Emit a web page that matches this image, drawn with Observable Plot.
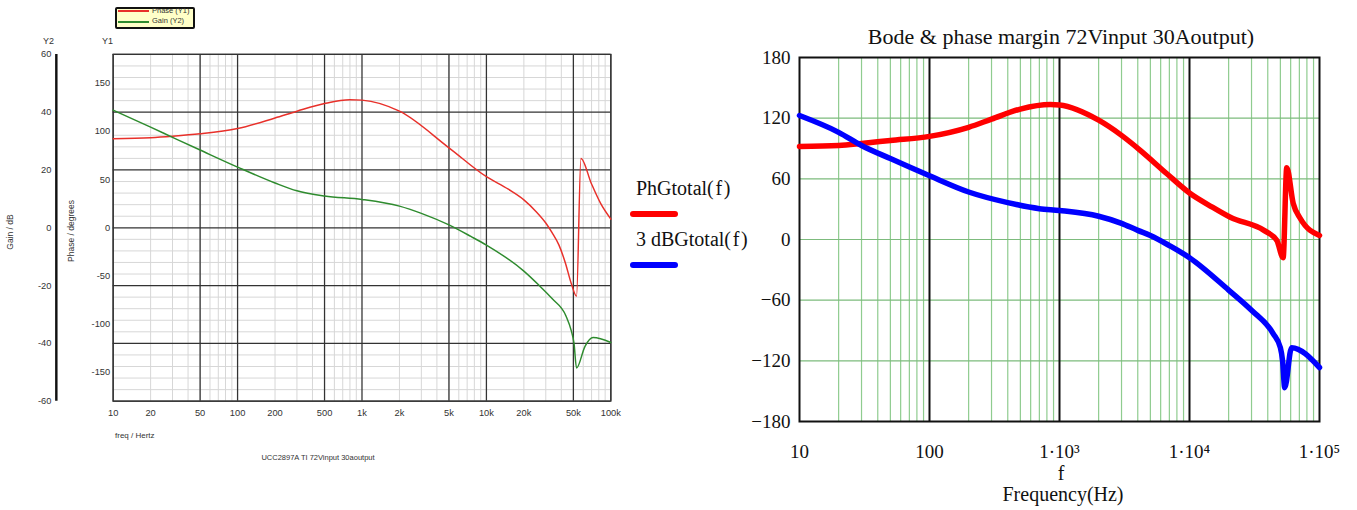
<!DOCTYPE html>
<html><head><meta charset="utf-8">
<script src="https://cdn.jsdelivr.net/npm/d3@7"></script>
<script src="https://cdn.jsdelivr.net/npm/@observablehq/plot@0.6"></script>
<style>
body{margin:0;background:#fff;}
#wrap{position:relative;width:1357px;height:510px;overflow:hidden;background:#fff;}
.abs{position:absolute;white-space:nowrap;}
.sans{font-family:"Liberation Sans",Arial,sans-serif;color:#333;}
.serif{font-family:"Liberation Serif","Times New Roman",serif;color:#111;}
.rot{transform:translate(-50%,-50%) rotate(-90deg);}
</style></head><body>
<div id="wrap">
  <div id="left" class="abs" style="left:0;top:0;width:627px;height:470px;overflow:hidden"></div>
  <div id="right" class="abs" style="left:740px;top:0;"></div>

  <!-- left chart texts -->
  <div class="abs" style="left:115px;top:7px;width:76px;height:18px;background:#ffffc8;border:2px solid #111;border-radius:2px;"></div>
  <div class="abs" style="left:118px;top:10px;width:31px;height:0;border-top:2px solid #e8302a;"></div>
  <div class="abs sans" style="left:152px;top:6px;font-size:7.5px;line-height:9px;">Phase (Y1)</div>
  <div class="abs" style="left:118px;top:21px;width:31px;height:0;border-top:2px solid #2e8b2e;"></div>
  <div class="abs sans" style="left:152px;top:16px;font-size:7.5px;line-height:9px;">Gain (Y2)</div>
  <div class="abs sans" style="left:43px;top:36px;font-size:9px;">Y2</div>
  <div class="abs sans" style="left:102px;top:36px;font-size:9px;">Y1</div>
  <div class="abs sans rot" style="left:10px;top:232px;font-size:8.5px;">Gain / dB</div>
  <div class="abs sans rot" style="left:71px;top:231px;font-size:8.5px;">Phase / degrees</div>
  <div class="abs sans" style="left:115px;top:431px;font-size:8px;">freq / Hertz</div>
  <div class="abs sans" style="left:318px;top:453px;font-size:7.5px;transform:translateX(-50%);">UCC2897A TI 72Vinput 30aoutput</div>

  <!-- middle legend -->
  <div class="abs serif" style="left:636px;top:177px;font-size:20px;">PhGtotal(&#8202;f&#8202;)</div>
  <div class="abs" style="left:630px;top:211px;width:48px;height:6px;background:#ff0000;border-radius:3px;"></div>
  <div class="abs serif" style="left:636px;top:228px;font-size:20px;">3 dBGtotal(&#8202;f&#8202;)</div>
  <div class="abs" style="left:630px;top:262px;width:48px;height:6px;background:#0000ff;border-radius:3px;"></div>

  <!-- right chart texts -->
  <div class="abs serif" style="left:1061px;top:24px;font-size:22px;transform:translateX(-50%);">Bode &amp; phase margin 72Vinput 30Aoutput)</div>
  <div class="abs serif" style="left:1061px;top:464px;font-size:20px;line-height:18px;transform:translateX(-50%);">f</div>
  <div class="abs serif" style="left:1063px;top:484px;font-size:20px;line-height:20px;transform:translateX(-50%);">Frequency(Hz)</div>
</div>
<script>
// ---------- shared tick definitions ----------
const decades = [10, 100, 1000, 10000];
const multipliers = [2, 3, 4, 5, 6, 7, 8, 9];
const minorX = decades.flatMap(d => multipliers.map(m => d * m));

// ---------- left chart (simulator) ----------
const leftXTicks  = [10, 20, 50, 100, 200, 500, 1000, 2000, 5000, 10000, 20000, 50000, 100000];
const leftXLabels = ["10","20","50","100","200","500","1k","2k","5k","10k","20k","50k","100k"];
const leftMajorX  = [10, 50, 100, 500, 1000, 5000, 10000, 50000, 100000];
const leftY1Ticks = [-150, -100, -50, 0, 50, 100, 150];      // phase, degrees
const leftY2Ticks = [-60, -40, -20, 0, 20, 40, 60];          // gain, dB
const leftMinorY2 = [-56,-52,-48,-44,-36,-32,-28,-24,-16,-12,-8,-4,4,8,12,16,24,28,32,36,44,48,52,56];
const degPerDb = 3; // Y2 (dB) to Y1 (deg) relation of the two axes

const leftPhaseF = [10,20,30,50,100,200,300,500,800,1000,2000,5000,10000,15000,20000,25000,30000,33700,38300,43000,48400,53000,57500,69700,83000,100000];
const leftPhase  = [92.5,93.5,95,97.5,103,114,121,129,133,132.5,121,83,53,40,29,17,5,-5,-18,-36,-59,-71,72,46,25,9];
const leftGainF  = [10,20,30,50,100,200,300,500,1000,2000,3000,5000,7500,10000,20000,26600,33700,43600,48000,50600,53000,62000,72000,100000];
const leftGain   = [40.7,34.8,31.3,26.9,21,15.5,12.8,11,9.8,7.5,5,1,-3,-6,-15,-20,-24.5,-30.5,-35.5,-40,-48.5,-41,-38,-39.7];

// ---------- right chart (Mathcad) ----------
const rightXTicks  = [10, 100, 1000, 10000, 100000];
const rightXLabels = ["10", "100", "1\u00B710\u00B3", "1\u00B710\u2074", "1\u00B710\u2075"];
const rightYTicks  = [-180, -120, -60, 0, 60, 120, 180];
const rightGridY   = [-120, -60, 0, 60, 120];
const rightMajorX  = [100, 1000, 10000];

const rightPhF = [10,20,30,50,100,200,300,500,850,1000,2000,3000,4200,6700,10000,15000,20600,37400,47000,52500,56000,62700,71000,100000];
const rightPh  = [92,93,95,98,102,111,119,129,133.5,133,118,103,88,65,46,32,22,9,-1,-18,71,36,21,4];
const rightGF  = [10,20,30,50,100,200,400,700,1000,2000,3000,4000,5000,7000,10000,20000,30000,44000,50000,52000,54000,61000,100000];
const rightG3  = [122.6,106,93,80,63,47,36.5,30.5,28.7,23,16,9,4,-6,-18,-50,-70,-93,-107,-120,-146.5,-107,-126.6];

const zip = (fs, vs) => fs.map((f, i) => ({f, v: vs[i]}));
const leftLabelMap = new Map(leftXTicks.map((t, i) => [t, leftXLabels[i]]));
const rightLabelMap = new Map(rightXTicks.map((t, i) => [t, rightXLabels[i]]));

const leftPlot = Plot.plot({
  width: 640, height: 470,
  marginLeft: 115, marginRight: 17, marginTop: 55, marginBottom: 61,
  x: {type: "log", domain: [10, 100000], axis: null},
  y: {domain: [-180, 180]},
  style: {background: "transparent", fontFamily: '"Liberation Sans", Arial, sans-serif', fontSize: "9.5px", color: "#333"},
  marks: [
    Plot.gridX(minorX, {stroke: "#d6d6d6", strokeOpacity: 1}),
    Plot.gridY(leftMinorY2.map(v => v * degPerDb), {stroke: "#d6d6d6", strokeOpacity: 1}),
    Plot.gridX(leftMajorX, {stroke: "#333", strokeOpacity: 1, strokeWidth: 1.3}),
    Plot.gridY(leftY2Ticks.map(v => v * degPerDb), {stroke: "#333", strokeOpacity: 1, strokeWidth: 1.3}),
    Plot.frame({stroke: "#333", strokeWidth: 1.3}),
    Plot.text(leftXTicks, {x: d => d, text: d => leftLabelMap.get(d), frameAnchor: "bottom", lineAnchor: "top", dy: 8, fill: "#333"}),
    Plot.axisY(leftY1Ticks, {tickSize: 0, tickPadding: 3, tickFormat: d => String(d), label: null}),
    Plot.axisY(leftY2Ticks.map(v => v * degPerDb), {tickSize: 0, tickPadding: 5, dx: -58, tickFormat: d => String(d / degPerDb), label: null}),
    Plot.ruleX([10], {dx: -58, stroke: "#111", strokeWidth: 2.5}),
    Plot.line(zip(leftPhaseF, leftPhase), {x: "f", y: "v", stroke: "#e8302a", strokeWidth: 1.5, curve: "monotone-x"}),
    Plot.line(zip(leftGainF, leftGain), {x: "f", y: d => d.v * degPerDb, stroke: "#2e8b2e", strokeWidth: 1.5, curve: "monotone-x"})
  ]
});
document.getElementById("left").append(leftPlot);

const rightPlot = Plot.plot({
  width: 617, height: 510,
  marginLeft: 59, marginRight: 38, marginTop: 57, marginBottom: 89,
  x: {type: "log", domain: [10, 100000]},
  y: {domain: [-180, 180]},
  style: {background: "transparent", fontFamily: '"Liberation Serif", "Times New Roman", serif', fontSize: "19px", color: "#111"},
  marks: [
    Plot.gridX(minorX, {stroke: "#8fcc8f", strokeOpacity: 1, strokeWidth: 1.2}),
    Plot.gridY(rightGridY, {stroke: "#7dbb7d", strokeOpacity: 1, strokeWidth: 1.2}),
    Plot.gridX(rightMajorX, {stroke: "#111", strokeOpacity: 1, strokeWidth: 2}),
    Plot.frame({stroke: "#111", strokeWidth: 2}),
    Plot.axisY(rightYTicks, {tickSize: 0, tickPadding: 9, label: null}),
    Plot.axisX(rightXTicks, {tickSize: 0, tickPadding: 23, tickFormat: d => rightLabelMap.get(d), label: null}),
    Plot.line(zip(rightPhF, rightPh), {x: "f", y: "v", stroke: "#ff0000", strokeWidth: 5.5, curve: "monotone-x"}),
    Plot.line(zip(rightGF, rightG3), {x: "f", y: "v", stroke: "#0000ff", strokeWidth: 5.5, curve: "monotone-x"})
  ]
});
document.getElementById("right").append(rightPlot);
</script>
</body></html>
